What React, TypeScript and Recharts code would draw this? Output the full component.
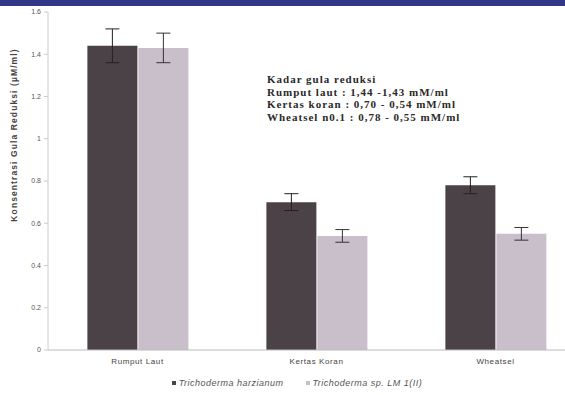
import React from 'react';
import { BarChart, Bar, XAxis, YAxis, ErrorBar } from 'recharts';

// substrate categories and reducing-sugar results (mM/ml) for both strains
const categories = ['Rumput Laut', 'Kertas Koran', 'Wheatsel'];
const harzianum = [1.44, 0.70, 0.78];
const harzianumErr = [0.08, 0.04, 0.04];
const strainLM = [1.43, 0.54, 0.55];
const strainLMErr = [0.07, 0.03, 0.03];
const yTicks = [0, 0.2, 0.4, 0.6, 0.8, 1, 1.2, 1.4, 1.6];

const seriesNames = ['Trichoderma harzianum', 'Trichoderma sp. LM 1(II)'];
const seriesColors = ['#4a4247', '#c8bfcb'];

const notes = [
  'Kadar gula reduksi',
  'Rumput laut : 1,44 -1,43 mM/ml',
  'Kertas koran : 0,70 - 0,54 mM/ml',
  'Wheatsel n0.1 : 0,78 - 0,55 mM/ml',
];

const rows = categories.map((name, i) => ({
  name,
  a: harzianum[i],
  aErr: harzianumErr[i],
  b: strainLM[i],
  bErr: strainLMErr[i],
}));

export default function App() {
  return (
    <div
      style={{
        position: 'fixed',
        left: 0,
        top: 0,
        width: 565,
        height: 395,
        overflow: 'hidden',
        background: '#fff',
        fontFamily: '"Liberation Sans", Arial, sans-serif',
      }}
    >
      <div style={{ position: 'absolute', left: 0, top: 0, width: 565, height: 6, background: '#2f3786' }} />
      <BarChart
        width={600}
        height={395}
        data={rows}
        margin={{ top: 12, right: 15, bottom: 25, left: 0 }}
        barCategoryGap="22%"
        barGap={1}
      >
        <XAxis
          dataKey="name"
          height={20}
          tickLine={false}
          axisLine={{ stroke: '#bbb' }}
          tick={{ fontSize: 8, fill: '#444', letterSpacing: 0.6 }}
        />
        <YAxis
          width={48}
          domain={[0, 1.6]}
          ticks={yTicks}
          tickSize={4}
          tickMargin={3}
          tickLine={{ stroke: '#ccc' }}
          axisLine={{ stroke: '#ccc' }}
          tick={{ fontSize: 7, fill: '#555' }}
        />
        <Bar dataKey="a" fill={seriesColors[0]} isAnimationActive={false}>
          <ErrorBar dataKey="aErr" width={7} stroke="#222" strokeWidth={1} isAnimationActive={false} />
        </Bar>
        <Bar dataKey="b" fill={seriesColors[1]} isAnimationActive={false}>
          <ErrorBar dataKey="bErr" width={7} stroke="#333" strokeWidth={1} isAnimationActive={false} />
        </Bar>
      </BarChart>

      <div
        style={{
          position: 'absolute',
          left: 14,
          top: 135,
          transform: 'translate(-50%, -50%) rotate(-90deg)',
          whiteSpace: 'nowrap',
          fontSize: 8.5,
          letterSpacing: 1.1,
          fontWeight: 'bold',
          color: '#444',
        }}
      >
        Konsentrasi Gula Reduksi (µM/ml)
      </div>

      <div
        style={{
          position: 'absolute',
          left: 267,
          top: 73,
          fontFamily: '"Liberation Serif", "Times New Roman", serif',
          fontWeight: 'bold',
          fontSize: 11,
          letterSpacing: 1,
          lineHeight: '12.5px',
          color: '#2a2a2a',
          whiteSpace: 'nowrap',
        }}
      >
        {notes.map((n) => (
          <div key={n}>{n}</div>
        ))}
      </div>

      <div
        style={{
          position: 'absolute',
          left: 0,
          top: 378,
          width: 594,
          display: 'flex',
          justifyContent: 'center',
          gap: 22,
          fontSize: 9,
          letterSpacing: 0.5,
          fontStyle: 'italic',
          color: '#555',
        }}
      >
        {seriesNames.map((n, i) => (
          <span key={n} style={{ display: 'flex', alignItems: 'center', gap: 3 }}>
            <span style={{ width: 4, height: 4, background: seriesColors[i], display: 'inline-block' }} />
            {n}
          </span>
        ))}
      </div>
    </div>
  );
}
